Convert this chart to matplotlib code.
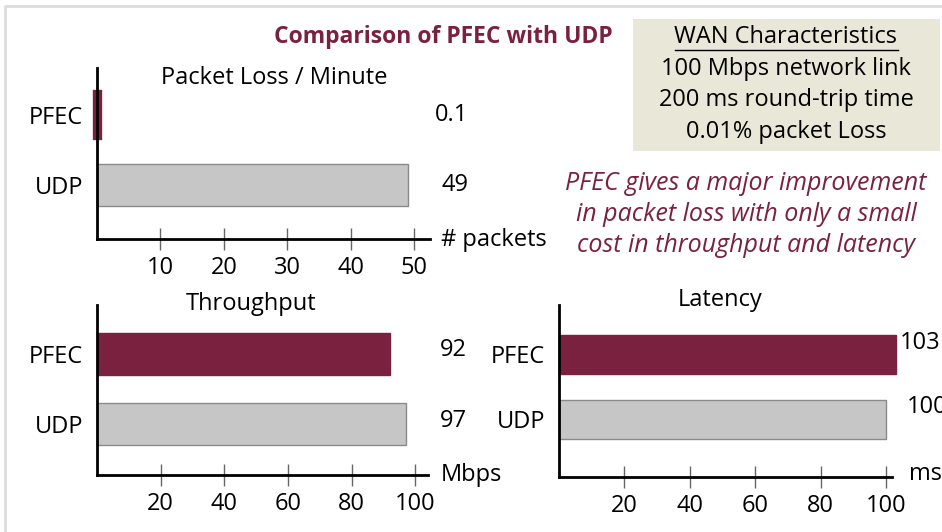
import matplotlib.pyplot as plt

# ------------------------------------
# data
# ------------------------------------
categories = ["UDP", "PFEC"]

loss_values = [49, 0.1]
loss_labels = ["49", "0.1"]
loss_ticks = [10, 20, 30, 40, 50]

tput_values = [97, 92]
tput_labels = ["97", "92"]
tput_ticks = [20, 40, 60, 80, 100]

lat_values = [100, 103]
lat_labels = ["100", "103"]
lat_ticks = [20, 40, 60, 80, 100]

wan_lines = ["100 Mbps network link", "200 ms round-trip time", "0.01% packet Loss"]
note_lines = ["PFEC gives a major improvement",
              "in packet loss with only a small",
              "cost in throughput and latency"]

MAROON = "#7B2140"
GREY = "#C6C6C6"
W, H = 942, 532
FS = 17

plt.rcParams["font.family"] = ["Open Sans", "DejaVu Sans"]

fig = plt.figure(figsize=(W / 100, H / 100), dpi=100)


def px(x, y):
    return x / W, 1 - y / H


def bar_panel(left, right, top, bottom, xmax, ylo, yhi, values, ticks, title, unit,
              title_xy, unit_xy, labels, label_xy, label_ha="right"):
    ax = fig.add_axes([left / W, 1 - bottom / H, (right - left) / W, (bottom - top) / H])
    ax.barh([0, 1], values, height=0.6, color=[GREY, MAROON],
            edgecolor=["#8a8a8a", MAROON], linewidth=[1, 1], clip_on=False)
    ax.set_xlim(0, xmax)
    ax.set_ylim(ylo, yhi)
    for s in ["top", "right"]:
        ax.spines[s].set_visible(False)
    ax.spines["left"].set_linewidth(2)
    ax.spines["bottom"].set_linewidth(2)
    ax.set_xticks(ticks)
    ax.set_xticklabels([str(t) for t in ticks], fontsize=FS)
    ax.tick_params(axis="x", direction="inout", length=16, width=1, color="#666666", pad=4)
    ax.set_yticks([0, 1])
    ax.set_yticklabels(categories, fontsize=FS)
    ax.tick_params(axis="y", length=0, pad=10)
    fig.text(*px(*title_xy), title, fontsize=FS, ha="center", va="center")
    fig.text(*px(*unit_xy), unit, fontsize=FS, ha="left", va="center")
    for lab, (lx, ly) in zip(labels, label_xy):
        fig.text(*px(lx, ly), lab, fontsize=FS, ha=label_ha, va="center")
    return ax


# packet loss
ax1 = bar_panel(97, 430, 68, 239, 52.5, -0.771, 1.671, loss_values, loss_ticks,
                "Packet Loss / Minute", "# packets", (274, 78), (441, 240),
                loss_labels, [(468, 185), (468, 115)])
# thin PFEC bar is drawn with a thick edge so it stays visible
ax1.patches[1].set_linewidth(6)

# throughput
bar_panel(97, 428, 305, 475, 104, -0.729, 1.7, tput_values, tput_ticks,
          "Throughput", "Mbps", (251, 304), (441, 475),
          tput_labels, [(467, 421), (467, 350)])

# latency
bar_panel(559, 892, 305, 477, 101.8, -0.892, 1.754, lat_values, lat_ticks,
          "Latency", "ms", (720, 300), (909, 474),
          lat_labels, [(907, 407), (900, 343)], label_ha="left")

# title
fig.text(*px(443, 37), "Comparison of PFEC with UDP", fontsize=16.5, fontweight="bold",
         color=MAROON, ha="center", va="center")

# WAN box
fig.patches.append(plt.Rectangle(px(633, 151), 307 / W, 132 / H, transform=fig.transFigure,
                                 facecolor="#E8E7D8", edgecolor="none", zorder=0))
fig.text(*px(786, 37), "WAN Characteristics", fontsize=FS, ha="center", va="center")
fig.add_artist(plt.Line2D([675 / W, 898 / W], [1 - 50 / H] * 2, color="black", lw=1))
for i, line in enumerate(wan_lines):
    fig.text(*px(786, 69 + 31.5 * i), line, fontsize=FS, ha="center", va="center")

# note
for i, line in enumerate(note_lines):
    fig.text(*px(746, 183 + 31.5 * i), line, fontsize=18, style="italic",
             color=MAROON, ha="center", va="center")

# slide frame
fig.add_artist(plt.Line2D([5 / W, 5 / W, 1], [0, 1 - 6 / H, 1 - 6 / H], color="#DDDDDD", lw=2))

fig.savefig("out.png", dpi=100)
